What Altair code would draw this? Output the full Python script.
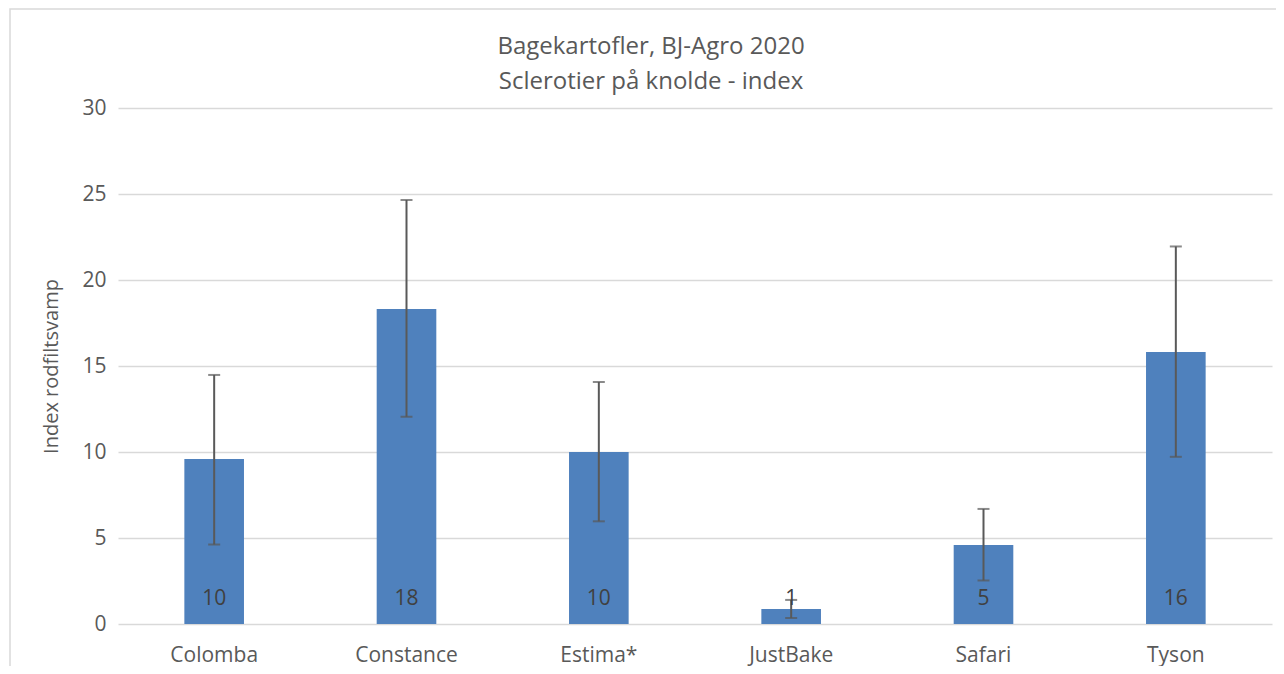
import altair as alt
import pandas as pd

categories = ["Colomba", "Constance", "Estima*", "JustBake", "Safari", "Tyson"]
values = [9.59, 18.31, 10.0, 0.87, 4.59, 15.81]
err_low = [4.62, 12.05, 5.97, 0.35, 2.53, 9.72]
err_high = [14.48, 24.65, 14.07, 1.4, 6.69, 21.95]
y_ticks = [0, 5, 10, 15, 20, 25, 30]

df = pd.DataFrame({"cat": categories, "val": values, "lo": err_low, "hi": err_high})

FONT = "Open Sans"
GRAY = "#595959"

x = alt.X("cat:N", sort=categories, title=None,
          scale=alt.Scale(paddingInner=0.69, paddingOuter=0.345),
          axis=alt.Axis(labelAngle=0, labelFont=FONT, labelFontSize=21, labelColor=GRAY,
                        ticks=False, domain=False, labelPadding=20))

base = alt.Chart(df)

bars = base.mark_bar(color="#4F81BD").encode(
    x=x,
    y=alt.Y("val:Q", title="Index rodfiltsvamp",
            scale=alt.Scale(domain=[0, 30], nice=False),
            axis=alt.Axis(values=y_ticks, labelFont=FONT, labelFontSize=21, labelColor=GRAY,
                          ticks=False, domain=False, labelPadding=12,
                          titleFont=FONT, titleFontSize=20, titleColor=GRAY,
                          titleFontWeight="normal", titlePadding=20,
                          gridColor="#D9D9D9", gridWidth=1.5)),
)

rules = base.mark_rule(color=GRAY, strokeWidth=2).encode(
    x=alt.X("cat:N", sort=categories), y="lo:Q", y2="hi:Q"
)
caps_hi = base.mark_tick(color=GRAY, size=12, thickness=2).encode(
    x=alt.X("cat:N", sort=categories), y="hi:Q"
)
caps_lo = base.mark_tick(color=GRAY, size=12, thickness=2).encode(
    x=alt.X("cat:N", sort=categories), y="lo:Q"
)

labels = base.mark_text(font=FONT, fontSize=21, color="#404040", dy=-25).encode(
    x=alt.X("cat:N", sort=categories),
    y=alt.datum(0),
    text=alt.Text("val:Q", format=".0f"),
)

frame = alt.Chart(pd.DataFrame({"a": [0]})).mark_rect(
    fill=None, stroke="#D9D9D9", strokeWidth=1.5, clip=False
).encode(
    x=alt.value(-108), x2=alt.value(1200), y=alt.value(-99), y2=alt.value(600)
)

chart = alt.layer(frame, bars, rules, caps_hi, caps_lo, labels).properties(
    width=1154, height=516,
    autosize=alt.AutoSizeParams(type="none"),
    padding={"left": 110, "top": 100, "right": 4, "bottom": 42},
    title=alt.TitleParams(
        text=["Bagekartofler, BJ-Agro 2020", "Sclerotier på knolde - index"],
        font=FONT, fontSize=24, fontWeight="normal", color=GRAY,
        lineHeight=35, offset=12, dx=-44, dy=98, anchor="middle",
    ),
).configure_view(stroke=None)

chart.save("out.html", embed_options={"renderer": "svg", "actions": False})
